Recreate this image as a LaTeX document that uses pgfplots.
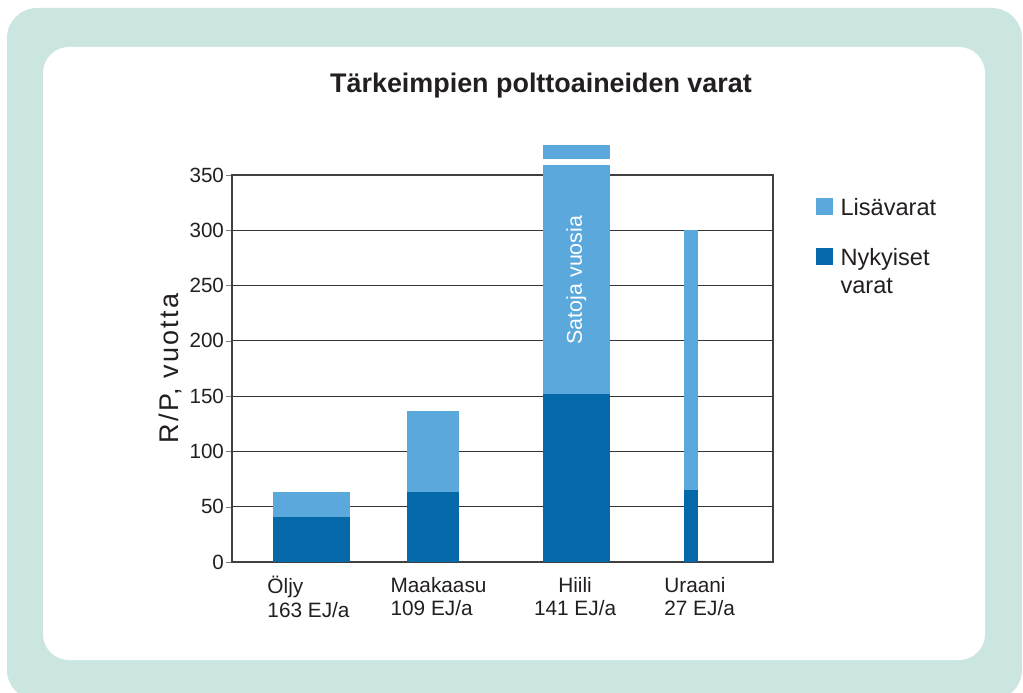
\documentclass[border=0pt]{standalone}
\usepackage{pgfplots}
\pgfplotsset{compat=1.18}
\usepackage{fontspec}
\setmainfont{Liberation Sans}
\definecolor{bgg}{HTML}{CBE6E1}
\definecolor{lightb}{HTML}{5BA8DC}
\definecolor{darkb}{HTML}{0568A8}
\definecolor{txt}{HTML}{231F20}
\begin{document}
\begin{tikzpicture}
\path[use as bounding box] (0pt,0pt) rectangle (511.5pt,346pt);
\fill[bgg, rounded corners=15pt] (3.5pt,-4pt) rectangle (511pt,342pt);
\fill[white, rounded corners=13pt] (21.5pt,16pt) rectangle (492.5pt,322.5pt);
\begin{axis}[
  at={(116pt,65pt)}, anchor=south west,
  scale only axis, width=270.5pt, height=193.5pt,
  xmin=0, xmax=541, ymin=0, ymax=350,
  clip=false,
  /pgf/number format/assume math mode=true,
  ytick={0,50,...,350},
  ytick pos=left, tick align=outside, major tick length=3pt,
  ymajorgrids, grid style={draw=black!80, line width=0.5pt},
  axis line style={draw=black!75, line width=0.65pt},
  xtick={76.5,206.5,343,467.5},
  xticklabels={{\begin{tabular}{@{}l@{}}Öljy\\163 EJ/a\end{tabular}},
               {\begin{tabular}{@{}l@{}}Maakaasu\\109 EJ/a\end{tabular}},
               {\begin{tabular}{@{}c@{}}Hiili\\141 EJ/a\end{tabular}},
               {\begin{tabular}{@{}l@{}}Uraani\\27 EJ/a\end{tabular}}},
  x tick style={draw=none},
  xticklabel style={font=\fontsize{10.4}{11.6}\selectfont, text=txt, yshift=-0.7pt},
  yticklabel style={font=\fontsize{10.3}{12}\selectfont, text=txt, xshift=2.5pt},
  ylabel={\addfontfeature{LetterSpace=8}R/P, vuotta},
  every axis y label/.style={at={(axis description cs:-0.1146,0.5)}, rotate=90, anchor=center, font=\fontsize{13.5}{15}\selectfont, text=txt},
  title={Tärkeimpien polttoaineiden varat},
  title style={at={(axis description cs:0.571,1.181)}, anchor=base, font=\fontsize{13.45}{15}\bfseries, text=txt},
  legend style={draw=none, fill=none, at={(axis description cs:1.0776,0.9406)}, anchor=north west,
    font=\fontsize{11.8}{14}\selectfont, text=txt, inner sep=0pt, row sep=13.5pt, column sep=4pt,
    nodes={anchor=base west, inner sep=0pt}},
  legend image code/.code={\fill[#1] (0pt,0pt) rectangle (8.5pt,8.5pt);},
]
% Oljy
\addplot[ybar, bar width=76.7, bar shift=0pt, fill=lightb, draw=none] coordinates {(79.7,63)};
\addlegendentry{Lisävarat}
\addplot[ybar, bar width=76.7, bar shift=0pt, fill=darkb, draw=none] coordinates {(79.7,41)};
\addlegendentry{\begin{tabular}[t]{@{}l@{}}Nykyiset\\varat\end{tabular}}
% Maakaasu
\addplot[ybar, bar width=52.3, bar shift=0pt, fill=lightb, draw=none, forget plot] coordinates {(200.8,137)};
\addplot[ybar, bar width=52.3, bar shift=0pt, fill=darkb, draw=none, forget plot] coordinates {(200.8,63)};
% Hiili
\addplot[ybar, bar width=67.3, bar shift=0pt, fill=lightb, draw=none, forget plot] coordinates {(344.3,359)};
\addplot[ybar, bar width=67.3, bar shift=0pt, fill=darkb, draw=none, forget plot] coordinates {(344.3,152)};
\addplot[fill=lightb, draw=none, forget plot] coordinates {(310.65,364.5) (377.95,364.5) (377.95,377) (310.65,377)} -- cycle;
% Uraani
\addplot[ybar, bar width=14.3, bar shift=0pt, fill=lightb, draw=none, forget plot] coordinates {(458.8,300)};
\addplot[ybar, bar width=14.3, bar shift=0pt, fill=darkb, draw=none, forget plot] coordinates {(458.8,65)};
\node[rotate=90, text=white, font=\fontsize{10.7}{12}\selectfont] at (axis cs:344.3,255) {Satoja vuosia};
\end{axis}
\end{tikzpicture}
\end{document}
